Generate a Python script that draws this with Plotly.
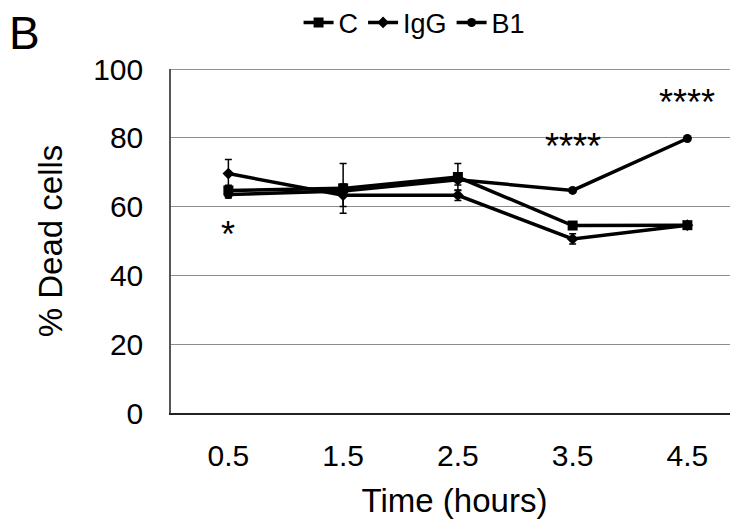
import plotly.graph_objects as go

categories = ["0.5", "1.5", "2.5", "3.5", "4.5"]
c_vals = [64.7, 65.3, 68.6, 54.5, 54.6]
c_err = [1.5, 7.2, 3.9, 1.0, 0.8]
igg_vals = [69.6, 63.3, 63.3, 50.6, 54.6]
igg_err = [4.1, 3.3, 1.5, 1.5, 0.8]
b1_vals = [63.5, 64.5, 67.8, 64.7, 79.8]
b1_err = [1.0, 1.5, 1.5, 0.5, 0.5]
y_ticks = [0, 20, 40, 60, 80, 100]
star_labels = [("0.5", 53.5, "*"), ("3.5", 79.2, "****"), ("4.5", 91.9, "****")]

FONT = "Liberation Sans, Arial, Helvetica, sans-serif"

fig = go.Figure()
series = [
    ("C", c_vals, c_err, "square", 10),
    ("IgG", igg_vals, igg_err, "diamond", 9),
    ("B1", b1_vals, b1_err, "circle", 9),
]
for name, vals, err, sym, sz in series:
    fig.add_trace(go.Scatter(
        x=categories, y=vals, name=name, mode="lines+markers",
        line=dict(color="black", width=3.5),
        marker=dict(symbol=sym, size=sz, color="black"),
        error_y=dict(type="data", array=err, visible=True, color="black",
                     thickness=1.5, width=3.5),
    ))

for x, y, t in star_labels:
    fig.add_annotation(x=categories.index(x), y=y, text=t, showarrow=False,
                       font=dict(size=36, color="black", family=FONT),
                       yanchor="middle", yshift=-6)

fig.add_annotation(xref="paper", yref="paper", x=-0.2575, y=1.105,
                   text="B", showarrow=False, xanchor="center", yanchor="middle",
                   font=dict(size=46, color="black", family=FONT))

fig.add_shape(type="line", xref="paper", yref="y", x0=0, x1=1, y0=100, y1=100,
              line=dict(color="#6e6e6e", width=1.5))

fig.update_layout(
    width=738, height=521,
    margin=dict(l=163, r=8, t=61, b=116, autoexpand=False),
    paper_bgcolor="white", plot_bgcolor="white",
    font=dict(family=FONT, color="black"),
    showlegend=True,
    legend=dict(orientation="h", x=0.225, xanchor="left", y=1.134, yanchor="middle",
                font=dict(size=27, color="black"), itemwidth=30,
                bgcolor="rgba(0,0,0,0)", tracegroupgap=0),
    xaxis=dict(
        type="category", range=[-0.5, 4.441], automargin=False,
        showline=True, linecolor="#222222", linewidth=1.5,
        showgrid=False, zeroline=False, ticks="",
        tickfont=dict(size=30, color="black"), ticklabelstandoff=15,
        title=dict(text="Time (hours)", font=dict(size=33, color="black"), standoff=18),
    ),
    yaxis=dict(
        range=[0, 100], tickvals=y_ticks, automargin=False,
        showline=True, linecolor="#555555", linewidth=1.5,
        showgrid=True, gridcolor="#8c8c8c", gridwidth=1,
        zeroline=False, ticks="",
        tickfont=dict(size=30, color="black"), ticklabelstandoff=20,
        title=dict(text="% Dead cells", font=dict(size=33, color="black"), standoff=21),
    ),
)

fig.write_html("out.html")
